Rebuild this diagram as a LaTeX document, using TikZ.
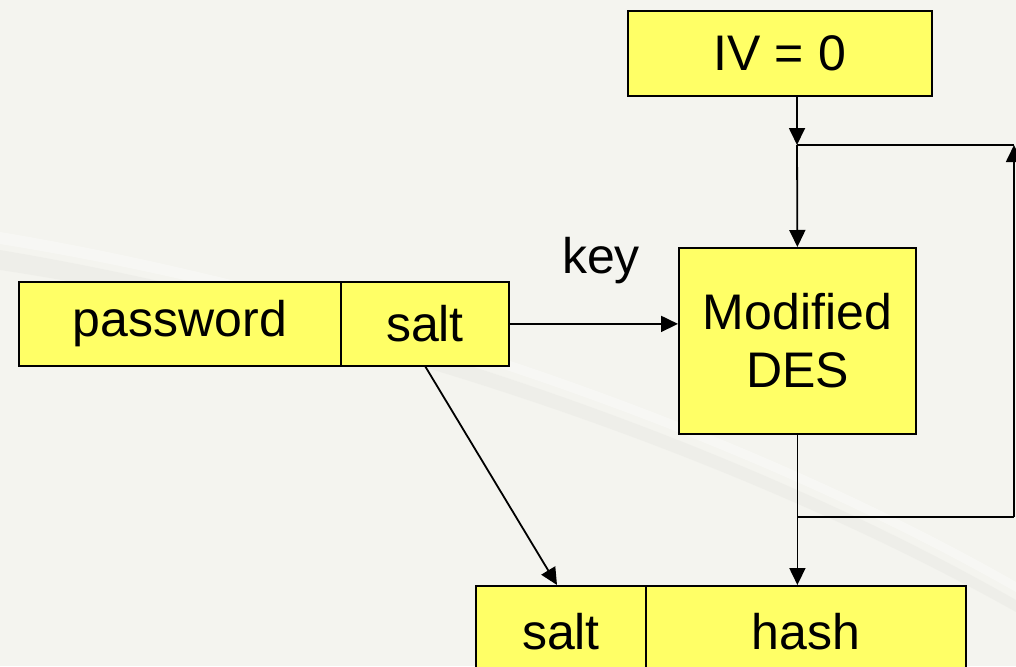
\documentclass[tikz,border=0pt]{standalone}
\usepackage{fontspec}
\setmainfont{Liberation Sans}
\usetikzlibrary{arrows.meta}
\definecolor{boxyellow}{HTML}{FFFF66}
\definecolor{paper}{HTML}{F4F4EF}
\definecolor{streak}{HTML}{EAEAE5}
\begin{document}
\begin{tikzpicture}[x=1pt,y=-1pt,
  box/.style={draw=black, line width=1.8pt, fill=boxyellow, inner sep=0pt,
    anchor=north west, font=\fontsize{50}{58}\selectfont, align=center},
  flow/.style={line width=1.8pt, -{Triangle[length=17pt,width=16pt]}},
  wire/.style={line width=1.8pt}]
  % page and its faint streaks
  \useasboundingbox (0,0) rectangle (1016,666);
  \clip (0,0) rectangle (1016,666);
  \fill[paper] (0,0) rectangle (1016,666);
  \fill[streak, opacity=0.5] (0,250) .. controls (300,300) and (700,420) .. (1016,600)
    -- (1016,612) .. controls (700,435) and (300,315) .. (0,270) -- cycle;
  \fill[white, opacity=0.35] (0,232) .. controls (300,282) and (700,402) .. (1016,582)
    -- (1016,592) .. controls (700,412) and (300,292) .. (0,244) -- cycle;

  % boxes
  \node[box, minimum width=304pt, minimum height=85pt] (iv) at (627,10) {IV = 0};
  \node[box, minimum width=237pt, minimum height=186pt] (des) at (678,247) {Modified\\DES};
  \node[box, minimum width=322pt, minimum height=84pt] (pw) at (18,281) {password};
  \node[box, minimum width=168pt, minimum height=84pt] (salt) at (340,281) {salt};
  \node[box, minimum width=170pt, minimum height=92pt] (osalt) at (475,585) {salt};
  \node[box, minimum width=320pt, minimum height=92pt] (hash) at (645,585) {hash};

  % label on the key input
  \node[font=\fontsize{50}{58}\selectfont, anchor=base] (key) at (601,273) {key};

  % junction points of the feedback loop
  \coordinate (join) at (797,145);
  \coordinate (split) at (797,517);
  \coordinate (loopR) at (1014,517);
  \coordinate (loopT) at (1014,145);
  \coordinate (saltout) at (425,366);
  \coordinate (saltin) at (557,585);

  % connectors
  \draw[flow] (iv.south -| join) -- (join);
  \draw[flow] (join) -- (des.north);
  \draw[wire] (join) -- (loopT);
  \draw[flow] (des.south) -- (hash.north -| des.south);
  \draw[wire] (split) -- (loopR);
  \draw[flow] (loopR) -- (loopT);
  \draw[flow] (salt.east) -- (des.west |- salt.east);
  \draw[flow] (saltout) -- (saltin);
\end{tikzpicture}
\end{document}
